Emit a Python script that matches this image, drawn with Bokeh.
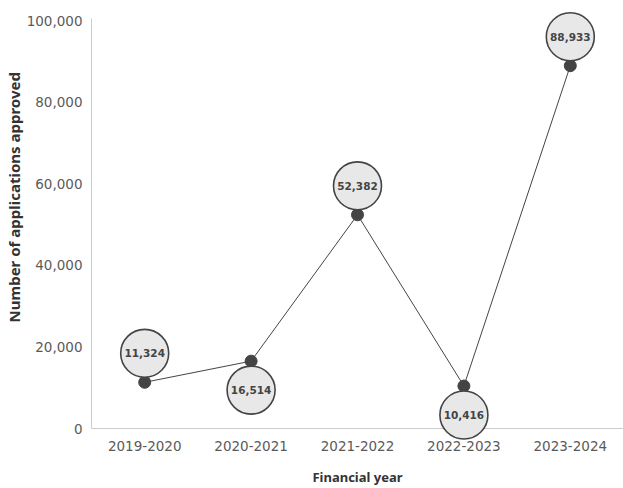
from bokeh.plotting import figure
from bokeh.models import ColumnDataSource, NumeralTickFormatter, FixedTicker, Range1d
from bokeh.core.properties import value
from bokeh.embed import file_html
from bokeh.resources import INLINE

years = ["2019-2020", "2020-2021", "2021-2022", "2022-2023", "2023-2024"]
approved = [11324, 16514, 52382, 10416, 88933]
label_side = [1, -1, 1, -1, 1]  # 1 = bubble above the point, -1 = below
y_ticks = [0, 20000, 40000, 60000, 80000, 100000]

FONT = "Noto Sans"
TICK_FONT = "DejaVu Sans"
DARK = "#444444"

p = figure(x_range=years, y_range=Range1d(0, 100500), width=623, height=488,
           output_backend="svg", toolbar_location=None,
           min_border_left=89, min_border_right=0, min_border_top=18, min_border_bottom=20)
p.outline_line_color = None
p.xgrid.grid_line_color = None
p.ygrid.grid_line_color = None

offset_units = 7100
bubble_y = [v + s * offset_units for v, s in zip(approved, label_side)]
labels = [f"{v:,}" for v in approved]
src = ColumnDataSource(dict(x=years, y=approved, by=bubble_y, lab=labels))

p.line("x", "y", source=src, line_color=DARK, line_width=1)
p.scatter("x", "y", source=src, size=12, fill_color=DARK, line_color=DARK)
p.scatter("x", "by", source=src, size=48, fill_color="#e8e8e8", line_color=DARK,
          line_width=1.6, level="overlay")
p.text("x", "by", text="lab", source=src, text_align="center", text_baseline="middle",
       text_font=value(TICK_FONT), text_font_size="10.5px", text_font_style="bold",
       text_color=DARK, level="overlay")

for ax in (p.xaxis, p.yaxis):
    ax.axis_line_color = "#cccccc"
    ax.major_tick_line_color = None
    ax.minor_tick_line_color = None
    ax.major_tick_out = 0
    ax.major_tick_in = 0
    ax.minor_tick_out = 0
    ax.minor_tick_in = 0
    ax.major_label_text_font = TICK_FONT
    ax.major_label_text_font_size = "13.5px"
    ax.major_label_text_color = "#5a5a5a"
    ax.axis_label_text_font = FONT
    ax.axis_label_text_font_style = "bold"
    ax.axis_label_text_color = "#333333"

p.yaxis.ticker = FixedTicker(ticks=y_ticks)
p.yaxis.formatter = NumeralTickFormatter(format="0,0")
p.yaxis.major_label_standoff = 9
p.yaxis.axis_label = "\u2003\u2003\u2003\u2002Number of applications approved"
p.yaxis.axis_label_standoff = 0
p.yaxis.axis_label_text_font_size = "15px"
p.xaxis.axis_label = "Financial year"
p.xaxis.axis_label_text_font_size = "13px"
p.xaxis.major_label_standoff = 12
p.xaxis.axis_label_standoff = 14

open("out.html", "w").write(file_html(p, INLINE))
